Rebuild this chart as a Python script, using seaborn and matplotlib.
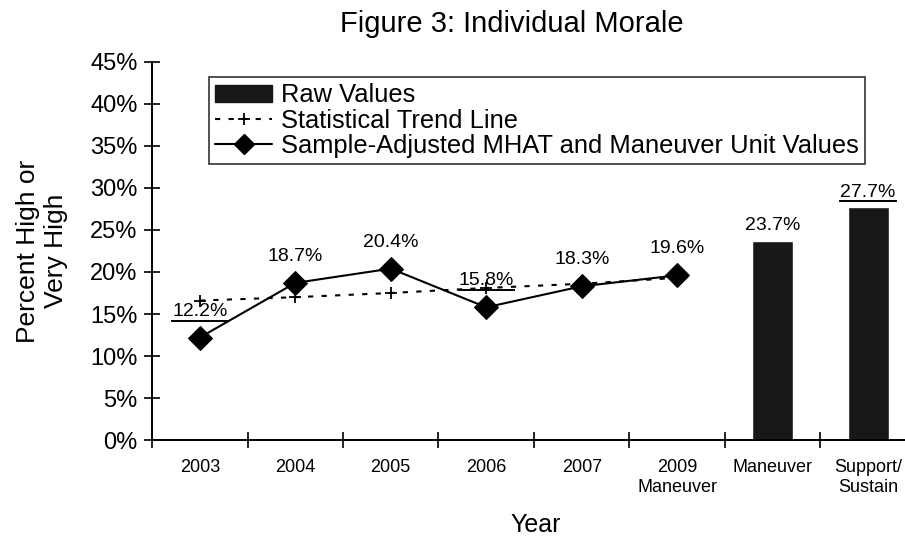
import numpy as np
import pandas as pd
import seaborn as sns
import matplotlib.pyplot as plt
from matplotlib.lines import Line2D
from matplotlib.patches import Patch
from matplotlib.ticker import PercentFormatter

# ---- data ----
categories = ["2003", "2004", "2005", "2006", "2007", "2009\nManeuver",
              "Maneuver", "Support/\nSustain"]
adjusted_values = [12.2, 18.7, 20.4, 15.8, 18.3, 19.6]       # first six categories
trend_values = [16.6, 17.0, 17.5, 18.1, 18.6, 19.3]          # statistical trend line
bar_categories = ["Maneuver", "Support/\nSustain"]
bar_values = [23.7, 27.7]
raw_mark_categories = ["2003", "2006", "Support/\nSustain"]  # short raw-value lines
raw_mark_values = [14.2, 17.9, 28.5]

sns.set_theme(style="white")
plt.rcParams['font.family'] = ['Liberation Sans', 'DejaVu Sans']
for k in ["text.color", "axes.labelcolor", "xtick.color", "ytick.color"]:
    plt.rcParams[k] = "black"

BAR_COLOR = "#171717"
TREND_LS = (0, (2.5, 4))

fig = plt.figure(figsize=(9.05, 5.37), dpi=100)
ax = fig.add_axes([0.168, 0.1806, 0.844, 0.704])

# bars (raw values)
bar_df = pd.DataFrame({"cat": bar_categories, "val": bar_values})
sns.barplot(data=bar_df, x="cat", y="val", order=categories, color=BAR_COLOR,
            width=0.43, saturation=1, ax=ax)

# line data on the category positions
pos = {c: i for i, c in enumerate(categories)}
line_df = pd.DataFrame({"pos": [pos[c] for c in categories[:6]],
                        "adj": adjusted_values, "trend": trend_values})

sns.lineplot(data=line_df, x="pos", y="trend", ax=ax, color="black",
             linestyle=TREND_LS, linewidth=1.5, marker="+",
             markersize=9, markeredgewidth=1.3, markeredgecolor="black")
sns.lineplot(data=line_df, x="pos", y="adj", ax=ax, color="black",
             linewidth=1.5, marker="D", markersize=12, markeredgecolor="black")

# short raw value lines
for c, v in zip(raw_mark_categories, raw_mark_values):
    ax.hlines(v, pos[c] - 0.3, pos[c] + 0.3, color="black", linewidth=1.4)

# value labels
for i, v in enumerate(adjusted_values):
    ax.annotate(f"{v:.1f}%", (i, v), xytext=(0, 19), textcoords="offset points",
                ha="center", va="center", fontsize=14)
for c, v in zip(bar_categories, bar_values):
    ax.annotate(f"{v:.1f}%", (pos[c], v), xytext=(0, 11), textcoords="offset points",
                ha="center", va="center", fontsize=14)

# axes
ax.set_xlim(-0.5, len(categories) - 0.5)
ax.set_ylim(0, 45)
ax.set_yticks(np.arange(0, 46, 5))
ax.yaxis.set_major_formatter(PercentFormatter(decimals=0))
ax.set_xticks(range(len(categories)))
ax.set_xticklabels(categories, fontsize=13)
ax.set_xticks(np.arange(-0.5, len(categories), 1), minor=True)
ax.tick_params(axis="x", which="major", bottom=True, length=0, pad=14)
ax.tick_params(axis="x", which="minor", bottom=True, length=11,
               direction="inout", width=1.2)
ax.tick_params(axis="y", left=True, length=11, direction="inout", width=1.2,
               labelsize=17, pad=5)
for s in ["top", "right"]:
    ax.spines[s].set_visible(False)
for s in ["left", "bottom"]:
    ax.spines[s].set_color("black")
    ax.spines[s].set_linewidth(1.4)

ax.set_xlabel("")
ax.set_ylabel("Percent High or\nVery High", fontsize=19)
ax.yaxis.set_label_coords(-0.11, 0.5)
fig.text(0.592, 1 - 532 / 537, "Year", fontsize=18, ha="center", va="baseline")
fig.text(0.565, 1 - 32 / 537, "Figure 3: Individual Morale", fontsize=21,
         ha="center", va="baseline")

handles = [Patch(facecolor=BAR_COLOR, edgecolor=BAR_COLOR),
           Line2D([], [], color="black", linestyle=TREND_LS, linewidth=1.5,
                  marker="+", markersize=8, markeredgewidth=1.3),
           Line2D([], [], color="black", linewidth=1.5, marker="D", markersize=10)]
labels = ["Raw Values", "Statistical Trend Line",
          "Sample-Adjusted MHAT and Maneuver Unit Values"]
leg = ax.legend(handles, labels, loc="upper left", bbox_to_anchor=(0.0746, 0.960),
                borderaxespad=0, fontsize=18.4, frameon=True, fancybox=False,
                handlelength=2.2, handleheight=0.7, handletextpad=0.35,
                labelspacing=0.05, borderpad=0.25)
leg.get_frame().set_edgecolor("black")
leg.get_frame().set_linewidth(1.2)

fig.savefig("out.png", dpi=100)
